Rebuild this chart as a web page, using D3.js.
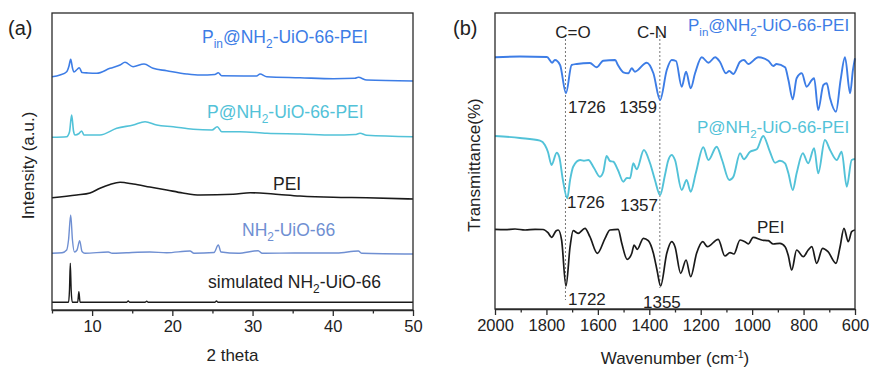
<!DOCTYPE html>
<html>
<head>
<meta charset="utf-8">
<script src="https://cdn.jsdelivr.net/npm/d3@7"></script>
<style>
  body { margin: 0; background: #fff; }
  text { font-family: "Liberation Sans", Arial, sans-serif; fill: #222; }
</style>
</head>
<body>
<svg id="chart" width="871" height="370"></svg>
<script>
// ---- XRD (panel a): [2 theta, intensity a.u. (stacked)] ----
const xrdPin = [[5,233.3],[6,235],[6.83,238.3],[7.12,244],[7.33,250.7],[7.55,242],[7.74,238],[8.12,240.5],[8.4,242.3],[8.74,237.5],[9.49,237],[10.57,236.7],[12.23,241.7],[13.48,245],[14.1,247.7],[15.1,243.3],[16.47,246],[17.6,241.7],[19.3,239.3],[21.8,236],[23.45,235],[25.3,235.5],[25.73,237.3],[26.15,234.3],[30.5,234],[30.93,236],[31.77,233.3],[35.9,232.3],[40.07,231.3],[42.77,231.7],[43.18,232.7],[44.23,230],[50,229]];
const xrdP = [[5,172.7],[6.83,173.3],[7.18,178],[7.45,195],[7.68,179],[7.87,175],[8.37,176.5],[8.7,179],[8.99,175],[10.98,175],[13.07,181.7],[15.13,185],[16.6,188.3],[18.05,185],[20.1,183.3],[22.6,180.7],[24.95,180],[25.6,183.3],[26.15,178.3],[28.4,178.3],[31.8,176.7],[35.9,176],[40.07,175],[42.77,175.5],[43.4,176.7],[44.23,174.7],[50,173.3]];
const xrdPEI = [[5,112.3],[8.08,115],[9.74,117],[10.98,121.7],[12.23,125.5],[13.48,127.7],[15.13,126],[17.2,123],[19.3,120],[21.3,117],[23.45,115],[27.6,115.7],[29.7,117.3],[32.6,116],[35.9,114],[40.07,112.7],[44.23,112.3],[50,111]];
const xrdUiO = [[5,56.7],[6.25,57.3],[6.83,60],[7.06,70],[7.33,95],[7.55,70],[7.8,58],[8.12,60],[8.45,69.3],[8.74,58.5],[9.11,56.7],[12.02,58],[12.5,56.7],[14.3,57.3],[17.2,58],[19.3,57.3],[22.2,59],[22.7,56.7],[25.2,57.5],[25.73,65],[26.07,58],[28.2,56.7],[30.7,59.3],[31.2,56.7],[35.5,57],[40.5,57],[43.18,59],[43.64,56.7],[50,56]];
const xrdSim = [[5,7.7],[7.06,7.7],[7.18,20],[7.28,46.7],[7.39,20],[7.53,7.7],[8.2,7.7],[8.35,18.3],[8.5,7.7],[14.3,7.7],[14.5,9],[14.7,7.7],[16.6,7.7],[16.8,8.7],[17,7.7],[25.3,7.7],[25.5,9],[25.7,7.7],[50,7.7]];

// ---- FTIR (panel b): [wavenumber cm-1, transmittance (stacked)] ----
const irPin = [[2000,251.7],[1903,252.5],[1798,252],[1778,246.3],[1767,249],[1747,244],[1724,215.7],[1702,244],[1682,245],[1631,246],[1605,241.7],[1579,248.3],[1533,249],[1522,244],[1501,236.7],[1482,235.7],[1468,240.7],[1456,237.3],[1410,246.3],[1384,235.7],[1358,209],[1332,239],[1313,249],[1296,248],[1274,222.3],[1257,237.3],[1239,220.7],[1222,235.7],[1196,251.7],[1170,246.3],[1144,251.7],[1125,247],[1102,235.7],[1089,238],[1073,235],[1047,247.3],[1032,249],[1015,245],[976,251.7],[937,248.3],[918,243],[905,245],[872,241.7],[859,229],[842,209.7],[827,230.7],[807,235.7],[788,222.3],[768,229],[759,230.7],[743,199],[723,224],[710,225.7],[697,210.7],[674,197.3],[656,229],[639,251.7],[619,215.7],[608,239],[600,250.7]];
const irP = [[2000,173],[1903,171],[1825,168.3],[1806,164],[1794,157],[1780,144],[1760,156.3],[1750,152],[1736,129],[1719,110.7],[1708,129],[1696,142.3],[1669,149],[1654,148.3],[1637,149],[1615,141],[1592,132.3],[1579,137],[1566,153],[1553,148],[1540,147.3],[1522,139],[1501,127.3],[1487,131],[1475,130.7],[1462,145.7],[1449,139.7],[1421,159],[1397,145.7],[1378,129],[1358,114],[1339,134],[1327,148],[1313,154],[1300,149],[1274,119],[1255,129],[1239,117.3],[1219,136],[1190,161.7],[1170,149],[1138,162.3],[1117,149],[1089,129],[1073,132.3],[1047,155.7],[1032,149.7],[1008,157.3],[982,159.7],[957,173],[931,157.3],[911,146.3],[892,148.3],[872,145.7],[859,135.7],[842,119],[827,135.7],[803,155.7],[782,145.7],[759,160.7],[743,135.7],[717,169],[697,159],[671,149],[652,157.3],[632,122.3],[613,149],[600,150]];
const irPEI = [[2000,79.7],[1961,79.3],[1922,80],[1883,79],[1844,79.7],[1813,79.5],[1794,76.3],[1780,71.7],[1763,78],[1754,79],[1741,69],[1724,23],[1708,62.3],[1696,78.3],[1677,75.7],[1650,80.7],[1631,72.3],[1602,55.7],[1572,70.7],[1553,79],[1521,79.7],[1507,65.7],[1486,49.7],[1468,55.7],[1459,64],[1447,59.7],[1423,70.7],[1404,68.3],[1384,55.7],[1370,39],[1356,23],[1332,55.7],[1313,67.3],[1300,62.3],[1278,35.7],[1257,49],[1239,32.3],[1216,55.7],[1192,67.3],[1174,62.3],[1132,69.7],[1106,53],[1086,56.3],[1071,55],[1047,69],[1028,67.3],[1015,65],[996,71.7],[963,69],[937,68.3],[918,65],[892,65.7],[872,62.3],[860,54],[846,39],[827,59],[801,52.3],[782,59],[768,62.3],[749,45.7],[726,60.7],[705,57.3],[674,45.7],[658,62.3],[643,80.7],[626,67.3],[613,77.3],[600,79]];

const xrdTicks = [10, 20, 30, 40, 50];
const xrdMinor = [5, 15, 25, 35, 45];
const irTicks = [2000, 1800, 1600, 1400, 1200, 1000, 800, 600];
const irMinor = [1900, 1700, 1500, 1300, 1100, 900, 700];
const bandLines = [1726, 1359];

const svg = d3.select('#chart');

const colPin = '#3d7de6';
const colP = '#52c2d8';
const colUiO = '#6f8fd2';
const colBlack = '#1a1a1a';

// rich text: parts = strings, or [string] for subscript / {sup: string} for superscript
function rich(g, x, y, parts, opts) {
  const t = g.append('text')
    .attr('x', x).attr('y', y)
    .style('font-size', opts.size + 'px')
    .attr('text-anchor', opts.anchor || 'start')
    .style('fill', opts.color || '#222');
  let shift = 0;
  parts.forEach(p => {
    if (typeof p === 'string') {
      t.append('tspan').attr('dy', -shift).text(p);
      shift = 0;
    } else if (Array.isArray(p)) {
      const d = opts.size * 0.3;
      t.append('tspan').attr('dy', d - shift).style('font-size', (opts.size * 0.68) + 'px').text(p[0]);
      shift = d;
    } else {
      const d = -opts.size * 0.38;
      t.append('tspan').attr('dy', d - shift).style('font-size', (opts.size * 0.62) + 'px').text(p.sup);
      shift = d;
    }
  });
  return t;
}

function frame(g, x0, x1, y0, y1) {
  g.append('rect')
    .attr('x', x0).attr('y', y0)
    .attr('width', x1 - x0).attr('height', y1 - y0)
    .attr('fill', 'none')
    .attr('stroke', '#2a2a2a')
    .attr('stroke-width', 1.3);
}

function bottomAxis(g, x, y1, majors, minors) {
  const ax = g.append('g')
    .attr('transform', `translate(0, ${y1})`)
    .call(d3.axisBottom(x).tickValues(majors).tickSize(6).tickSizeOuter(0).tickPadding(4).tickFormat(d3.format('d')));
  ax.select('.domain').attr('stroke', '#2a2a2a').attr('stroke-width', 1.3);
  ax.selectAll('.tick line').attr('stroke', '#2a2a2a').attr('stroke-width', 1.3);
  ax.selectAll('.tick text')
    .style('font-size', '16.5px')
    .style('font-family', '"Liberation Sans", Arial, sans-serif')
    .attr('fill', '#222');
  const mn = g.append('g')
    .attr('transform', `translate(0, ${y1})`)
    .call(d3.axisBottom(x).tickValues(minors).tickSize(3.5).tickSizeOuter(0).tickFormat(''));
  mn.select('.domain').remove();
  mn.selectAll('.tick line').attr('stroke', '#2a2a2a').attr('stroke-width', 1.3);
}

// ================= Panel (a) =================
const A = { left: 52, right: 413, top: 13, bottom: 310 };
const xA = d3.scaleLinear().domain([5, 50]).range([A.left, A.right]);
const yA = d3.scaleLinear().domain([0, 297]).range([A.bottom, A.top]);
const gA = svg.append('g');

const lineA = d3.line().x(d => xA(d[0])).y(d => yA(d[1])).curve(d3.curveMonotoneX);
[[xrdPin, colPin, 1.6], [xrdP, colP, 1.6], [xrdPEI, colBlack, 1.6], [xrdUiO, colUiO, 1.4], [xrdSim, colBlack, 1.4]]
  .forEach(([data, c, w]) => {
    gA.append('path').datum(data)
      .attr('d', lineA)
      .attr('fill', 'none')
      .attr('stroke', c)
      .attr('stroke-width', w)
      .attr('stroke-linejoin', 'round');
  });

frame(gA, A.left, A.right, A.top, A.bottom);
bottomAxis(gA, xA, A.bottom, xrdTicks, xrdMinor);

rich(gA, 202, 43, ['P', ['in'], '@NH', ['2'], '-UiO-66-PEI'], { size: 17.5, color: colPin });
rich(gA, 207, 118, ['P@NH', ['2'], '-UiO-66-PEI'], { size: 17.5, color: colP });
rich(gA, 273, 190, ['PEI'], { size: 17.5, color: '#222' });
rich(gA, 242, 236, ['NH', ['2'], '-UiO-66'], { size: 17.5, color: colUiO });
rich(gA, 208, 288, ['simulated NH', ['2'], '-UiO-66'], { size: 17.5, color: '#222' });

gA.append('text').attr('x', (A.left + A.right) / 2).attr('y', 361)
  .attr('text-anchor', 'middle').style('font-size', '17px').text('2 theta');
gA.append('text')
  .attr('transform', `translate(34, ${(A.top + A.bottom) / 2 + 4}) rotate(-90)`)
  .attr('text-anchor', 'middle').style('font-size', '17px').text('Intensity (a.u.)');
gA.append('text').attr('x', 8).attr('y', 35).style('font-size', '20px').text('(a)');

// ================= Panel (b) =================
const B = { left: 495, right: 855, top: 13, bottom: 309 };
const xB = d3.scaleLinear().domain([2000, 600]).range([B.left, B.right]);
const yB = d3.scaleLinear().domain([0, 296]).range([B.bottom, B.top]);
const gB = svg.append('g');

// dotted band markers
gB.selectAll('line.band').data(bandLines).enter().append('line')
  .attr('class', 'band')
  .attr('x1', d => xB(d)).attr('x2', d => xB(d))
  .attr('y1', yB(274))
  .attr('y2', (d, i) => i === 0 ? yB(9) : yB(21))
  .attr('stroke', '#777')
  .attr('stroke-width', 1)
  .attr('stroke-dasharray', '2,2');

const lineB = d3.line().x(d => xB(d[0])).y(d => yB(d[1])).curve(d3.curveMonotoneX);
[[irPin, colPin, 1.9], [irP, colP, 1.9], [irPEI, colBlack, 1.7]]
  .forEach(([data, c, w]) => {
    gB.append('path').datum(data)
      .attr('d', lineB)
      .attr('fill', 'none')
      .attr('stroke', c)
      .attr('stroke-width', w)
      .attr('stroke-linejoin', 'round');
  });

frame(gB, B.left, B.right, B.top, B.bottom);
bottomAxis(gB, xB, B.bottom, irTicks, irMinor);

rich(gB, 573, 38, ['C=O'], { size: 17, anchor: 'middle' });
rich(gB, 652, 38, ['C-N'], { size: 17, anchor: 'middle' });
rich(gB, 688, 31, ['P', ['in'], '@NH', ['2'], '-UiO-66-PEI'], { size: 17, color: colPin });
rich(gB, 568, 113, ['1726'], { size: 17 });
rich(gB, 657, 113, ['1359'], { size: 17, anchor: 'end' });
rich(gB, 697, 133, ['P@NH', ['2'], '-UiO-66-PEI'], { size: 17, color: colP });
rich(gB, 567, 208, ['1726'], { size: 17 });
rich(gB, 658, 211, ['1357'], { size: 17, anchor: 'end' });
rich(gB, 757, 233, ['PEI'], { size: 17 });
rich(gB, 568, 305, ['1722'], { size: 17 });
rich(gB, 643, 308, ['1355'], { size: 17 });

rich(gB, (B.left + B.right) / 2, 364, ['Wavenumber (cm', { sup: '-1' }, ')'], { size: 17, anchor: 'middle' });
gB.append('text')
  .attr('transform', `translate(480, ${(B.top + B.bottom) / 2 + 4}) rotate(-90)`)
  .attr('text-anchor', 'middle').style('font-size', '17px').text('Transmittance(%)');
gB.append('text').attr('x', 453).attr('y', 35).style('font-size', '20px').text('(b)');
</script>
</body>
</html>
